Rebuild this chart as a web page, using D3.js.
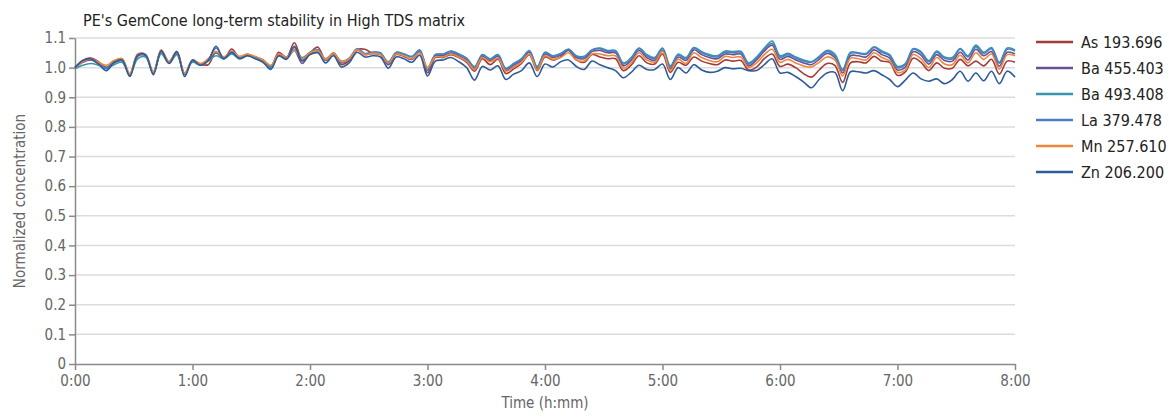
<!DOCTYPE html>
<html>
<head>
<meta charset="utf-8">
<script src="https://cdn.jsdelivr.net/npm/d3@7"></script>
<style>
  body { margin: 0; background: #fff; }
  svg text { font-family: "Liberation Sans Narrow", "DejaVu Sans Condensed", "Roboto Condensed", sans-serif; font-stretch: condensed; }
</style>
</head>
<body>
<div id="chart"></div>
<script>
// sampling every 4 minutes, 0:00 .. 8:00
const minutes = d3.range(0, 484, 4);

const seriesNames = ["As 193.696", "Ba 455.403", "Ba 493.408", "La 379.478", "Mn 257.610", "Zn 206.200"];
const seriesColors = ["#a33b3b", "#6a4f96", "#3a97a9", "#4a80c2", "#ef873b", "#2f5c99"];

const as193 = [1.000,1.024,1.032,1.020,1.000,1.022,1.030,0.976,1.044,1.042,0.982,1.056,1.020,1.054,0.978,1.024,1.012,1.010,1.052,1.030,
  1.063,1.034,1.044,1.036,1.026,1.004,1.052,1.034,1.084,1.028,1.050,1.069,1.026,1.046,1.010,1.024,1.060,1.062,1.048,1.044,
  1.010,1.044,1.038,1.028,1.052,0.982,1.034,1.034,1.044,1.034,1.018,0.988,1.030,1.010,1.028,0.980,0.996,1.014,1.044,0.990,
  1.036,1.026,1.036,1.060,1.026,1.018,1.044,1.036,1.030,1.030,0.990,1.008,1.040,1.016,1.012,1.046,0.984,1.018,1.008,1.036,
  1.022,1.014,1.010,1.026,1.022,1.024,0.992,1.002,1.030,1.046,1.004,1.012,1.000,0.980,0.968,0.992,1.014,1.008,0.950,1.016,
  1.020,1.016,1.038,1.022,1.018,0.974,0.986,1.032,1.018,0.990,1.016,0.998,0.998,1.028,1.006,1.022,1.006,1.028,0.978,1.022,1.018];

const ba455 = [1.000,1.018,1.026,1.014,1.000,1.016,1.024,0.978,1.038,1.040,0.984,1.052,1.016,1.048,0.978,1.022,1.010,1.024,1.050,1.030,
  1.050,1.032,1.042,1.032,1.020,1.002,1.040,1.030,1.058,1.014,1.046,1.054,1.024,1.046,1.016,1.026,1.060,1.044,1.048,1.046,
  1.012,1.048,1.040,1.028,1.056,0.990,1.040,1.040,1.050,1.040,1.026,0.996,1.038,1.024,1.038,0.990,1.008,1.024,1.052,0.996,
  1.046,1.034,1.042,1.058,1.034,1.030,1.054,1.058,1.050,1.050,1.006,1.024,1.058,1.034,1.024,1.058,0.996,1.036,1.024,1.060,
  1.044,1.034,1.030,1.046,1.044,1.046,1.006,1.026,1.056,1.076,1.028,1.038,1.026,1.016,1.010,1.028,1.048,1.034,0.982,1.040,
  1.040,1.036,1.060,1.044,1.032,0.992,1.002,1.054,1.042,1.012,1.044,1.024,1.022,1.052,1.026,1.062,1.040,1.054,1.005,1.052,1.046];

const ba493 = [0.996,1.008,1.014,1.008,0.998,1.010,1.018,0.978,1.030,1.036,0.985,1.046,1.015,1.044,0.980,1.018,1.008,1.022,1.040,1.030,
  1.046,1.030,1.040,1.034,1.022,0.998,1.044,1.034,1.060,1.034,1.050,1.052,1.030,1.048,1.022,1.032,1.062,1.046,1.052,1.048,
  1.020,1.050,1.046,1.038,1.058,1.000,1.044,1.046,1.056,1.046,1.032,1.004,1.044,1.030,1.044,0.998,1.014,1.030,1.058,1.004,
  1.052,1.040,1.048,1.062,1.040,1.038,1.060,1.066,1.058,1.058,1.016,1.034,1.066,1.044,1.034,1.066,1.006,1.046,1.034,1.068,
  1.054,1.044,1.040,1.056,1.054,1.055,1.016,1.036,1.066,1.090,1.040,1.048,1.036,1.026,1.020,1.038,1.058,1.046,0.994,1.052,
  1.050,1.048,1.070,1.056,1.044,1.004,1.014,1.064,1.054,1.024,1.056,1.036,1.034,1.064,1.040,1.076,1.052,1.068,1.018,1.066,1.060];

const la379 = [1.000,1.022,1.030,1.015,0.996,1.020,1.027,0.972,1.043,1.044,0.980,1.058,1.018,1.052,0.975,1.025,1.010,1.026,1.066,1.033,
  1.055,1.034,1.045,1.035,1.025,1.005,1.045,1.035,1.068,1.029,1.052,1.060,1.026,1.050,1.018,1.030,1.064,1.048,1.052,1.050,
  1.015,1.052,1.046,1.036,1.060,0.992,1.044,1.045,1.055,1.045,1.030,1.000,1.042,1.028,1.042,0.995,1.012,1.028,1.056,1.000,
  1.050,1.038,1.046,1.062,1.038,1.035,1.060,1.064,1.055,1.055,1.012,1.030,1.064,1.040,1.030,1.064,1.002,1.042,1.030,1.066,
  1.050,1.040,1.036,1.052,1.050,1.052,1.012,1.032,1.062,1.082,1.035,1.044,1.032,1.022,1.018,1.035,1.055,1.040,0.990,1.048,
  1.048,1.045,1.068,1.052,1.040,1.000,1.010,1.062,1.050,1.020,1.052,1.032,1.030,1.062,1.036,1.070,1.048,1.064,1.015,1.062,1.056];

const mn257 = [1.000,1.020,1.030,1.018,1.008,1.024,1.030,0.980,1.046,1.044,0.986,1.060,1.020,1.054,0.982,1.026,1.014,1.030,1.054,1.036,
  1.054,1.038,1.046,1.038,1.026,1.008,1.046,1.036,1.058,1.030,1.050,1.056,1.028,1.048,1.020,1.030,1.060,1.044,1.048,1.044,
  1.016,1.046,1.040,1.030,1.050,1.000,1.036,1.036,1.046,1.036,1.022,0.994,1.034,1.020,1.032,0.988,1.002,1.018,1.046,0.992,
  1.040,1.028,1.034,1.050,1.026,1.022,1.046,1.046,1.040,1.040,0.998,1.016,1.050,1.026,1.018,1.055,0.990,1.028,1.014,1.050,
  1.034,1.024,1.020,1.038,1.034,1.036,1.000,1.016,1.044,1.062,1.018,1.028,1.016,1.006,1.002,1.018,1.036,1.026,0.972,1.032,
  1.030,1.026,1.050,1.034,1.022,0.984,0.992,1.044,1.030,1.000,1.034,1.012,1.010,1.042,1.016,1.050,1.028,1.046,0.995,1.044,1.040];

const zn206 = [1.000,1.024,1.030,1.012,0.990,1.018,1.026,0.970,1.042,1.044,0.976,1.058,1.014,1.054,0.970,1.026,1.008,1.024,1.072,1.030,
  1.052,1.030,1.040,1.030,1.018,0.994,1.040,1.028,1.072,1.022,1.044,1.050,1.016,1.040,1.002,1.016,1.052,1.036,1.040,1.036,
  0.998,1.036,1.030,1.018,1.042,0.972,1.022,1.026,1.034,1.020,1.000,0.958,1.004,0.992,1.006,0.960,0.978,0.990,1.016,0.970,
  1.012,1.002,1.020,1.026,1.004,0.994,1.022,1.010,1.000,0.990,0.966,0.984,1.008,0.994,0.994,1.012,0.960,1.000,0.982,1.010,
  0.992,0.984,0.988,1.000,0.996,0.998,0.990,0.990,1.010,1.030,0.982,0.984,0.970,0.952,0.932,0.960,0.982,0.984,0.922,0.986,
  0.986,0.982,0.990,0.976,0.960,0.936,0.958,0.982,0.962,0.954,0.962,0.946,0.960,0.988,0.954,0.982,0.956,0.988,0.946,0.988,0.968];

const seriesValues = [as193, ba455, ba493, la379, mn257, zn206];

const yTicks = [0, 0.1, 0.2, 0.3, 0.4, 0.5, 0.6, 0.7, 0.8, 0.9, 1.0, 1.1];
const xTicks = [0, 60, 120, 180, 240, 300, 360, 420, 480];
const xTickLabels = ["0:00", "1:00", "2:00", "3:00", "4:00", "5:00", "6:00", "7:00", "8:00"];

const width = 1169, height = 420;
const plotLeft = 75, plotRight = 1015, plotTop = 38, plotBottom = 364;

const svg = d3.select("#chart").append("svg")
  .attr("width", width)
  .attr("height", height);

const x = d3.scaleLinear().domain([0, 480]).range([plotLeft, plotRight]);
const y = d3.scaleLinear().domain([0, 1.1]).range([plotBottom, plotTop]);

// gridlines
svg.append("g")
  .selectAll("line")
  .data(yTicks.slice(1))
  .enter()
  .append("line")
  .attr("x1", plotLeft)
  .attr("x2", plotRight)
  .attr("y1", (d) => y(d))
  .attr("y2", (d) => y(d))
  .style("stroke", "#dcdcdc")
  .style("stroke-width", 1.5);

// y axis
const yAxis = svg.append("g")
  .attr("transform", `translate(${plotLeft},0)`)
  .call(d3.axisLeft(y).tickValues(yTicks).tickSize(6).tickSizeOuter(0)
    .tickFormat((d) => (d === 0 ? "0" : d3.format(".1f")(d))));

// x axis
const xAxis = svg.append("g")
  .attr("transform", `translate(0,${plotBottom})`)
  .call(d3.axisBottom(x).tickValues(xTicks).tickSize(6).tickSizeOuter(0)
    .tickFormat((d, i) => xTickLabels[i]));

[yAxis, xAxis].forEach((g) => {
  g.select(".domain").style("stroke", "#8a8a8a").style("stroke-width", 1.5);
  g.selectAll(".tick line").style("stroke", "#8a8a8a").style("stroke-width", 1.5);
  g.selectAll(".tick text")
    .style("fill", "#666")
    .style("font-size", "15px");
});
yAxis.selectAll(".tick text").attr("x", -9);
xAxis.selectAll(".tick text").attr("y", 11);

// axis titles
svg.append("text")
  .attr("x", (plotLeft + plotRight) / 2)
  .attr("y", 408)
  .attr("text-anchor", "middle")
  .style("font-size", "15px")
  .style("fill", "#666")
  .text("Time (h:mm)");

svg.append("text")
  .attr("transform", `translate(25,${(plotTop + plotBottom) / 2}) rotate(-90)`)
  .attr("text-anchor", "middle")
  .style("font-size", "15px")
  .style("fill", "#666")
  .text("Normalized concentration");

// title
svg.append("text")
  .attr("x", 83)
  .attr("y", 26)
  .style("font-size", "16px")
  .style("fill", "#222")
  .text("PE's GemCone long-term stability in High TDS matrix");

// lines
const line = d3.line()
  .x((d, i) => x(minutes[i]))
  .y((d) => y(d))
  .curve(d3.curveCatmullRom.alpha(0.5));

svg.append("g")
  .selectAll("path")
  .data(seriesValues)
  .enter()
  .append("path")
  .attr("d", (d) => line(d))
  .style("fill", "none")
  .style("stroke", (d, i) => seriesColors[i])
  .style("stroke-width", 1.6);

// legend
const legend = svg.append("g")
  .selectAll("g")
  .data(seriesNames)
  .enter()
  .append("g")
  .attr("transform", (d, i) => `translate(1036,${42 + i * 26})`);

legend.append("line")
  .attr("x1", 0)
  .attr("x2", 37)
  .style("stroke", (d, i) => seriesColors[i])
  .style("stroke-width", 2.5);

legend.append("text")
  .attr("x", 45)
  .attr("dy", "0.36em")
  .style("font-size", "16px")
  .style("fill", "#222")
  .text((d) => d);
</script>
</body>
</html>
